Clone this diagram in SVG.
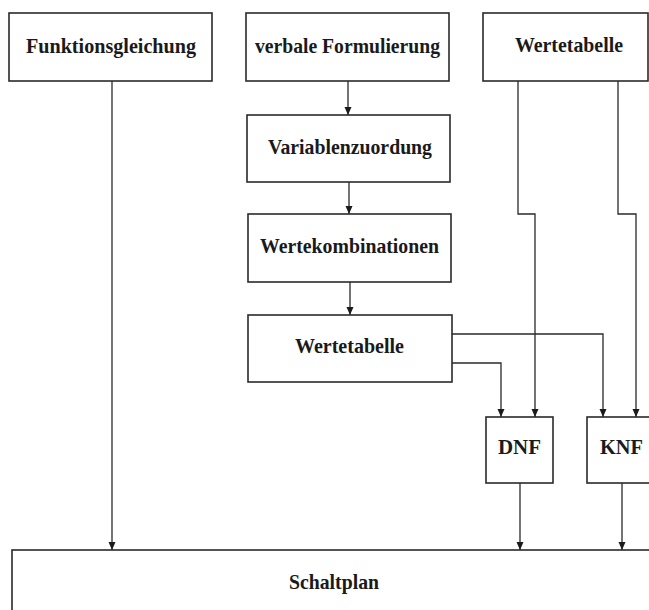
<svg xmlns="http://www.w3.org/2000/svg" width="649" height="610" viewBox="0 0 649 610">
<style>
.box{fill:#fff;stroke:#2a2a2a;stroke-width:1.6}
.lbl{font-family:"Liberation Serif","Times New Roman",serif;font-weight:bold;font-size:22px;fill:#1a1a1a;text-anchor:middle}
.con{fill:none;stroke:#2a2a2a;stroke-width:1.3}
</style>
<defs>
<marker id="arr" viewBox="0 0 8 8" refX="8" refY="4" markerWidth="8" markerHeight="8" markerUnits="userSpaceOnUse" orient="auto">
<path d="M0,0.5 L8,4 L0,7.5 Z" fill="#1a1a1a"/>
</marker>
</defs>
<rect width="649" height="610" fill="#fff"/>
<g id="connectors">
<path class="con" d="M112,81 V550" marker-end="url(#arr)"/>
<path class="con" d="M348,81 V115" marker-end="url(#arr)"/>
<path class="con" d="M349,182 V214" marker-end="url(#arr)"/>
<path class="con" d="M350,282 V315" marker-end="url(#arr)"/>
<path class="con" d="M518,81 V214 H535 V417" marker-end="url(#arr)"/>
<path class="con" d="M618,81 V214 H636 V417" marker-end="url(#arr)"/>
<path class="con" d="M452,334 H603 V417" marker-end="url(#arr)"/>
<path class="con" d="M452,363 H501 V417" marker-end="url(#arr)"/>
<path class="con" d="M520,483 V550" marker-end="url(#arr)"/>
<path class="con" d="M622,483 V550" marker-end="url(#arr)"/>
</g>
<g id="funktionsgleichung">
<rect class="box" x="9" y="13" width="203" height="68"/>
<text class="lbl" x="111" y="53" textLength="170" lengthAdjust="spacingAndGlyphs">Funktionsgleichung</text>
</g>
<g id="verbale-formulierung">
<rect class="box" x="246" y="13" width="203" height="68"/>
<text class="lbl" x="347.5" y="53" textLength="185" lengthAdjust="spacingAndGlyphs">verbale Formulierung</text>
</g>
<g id="wertetabelle-oben">
<rect class="box" x="483" y="13" width="165" height="68"/>
<text class="lbl" x="569" y="52" textLength="108" lengthAdjust="spacingAndGlyphs">Wertetabelle</text>
</g>
<g id="variablenzuordung">
<rect class="box" x="247" y="115" width="203" height="67"/>
<text class="lbl" x="350" y="154" textLength="164" lengthAdjust="spacingAndGlyphs">Variablenzuordung</text>
</g>
<g id="wertekombinationen">
<rect class="box" x="248" y="214" width="203" height="68"/>
<text class="lbl" x="349.5" y="253" textLength="179" lengthAdjust="spacingAndGlyphs">Wertekombinationen</text>
</g>
<g id="wertetabelle-mitte">
<rect class="box" x="248" y="315" width="204" height="67"/>
<text class="lbl" x="349.5" y="353" textLength="109" lengthAdjust="spacingAndGlyphs">Wertetabelle</text>
</g>
<g id="dnf">
<rect class="box" x="486" y="417" width="67" height="66"/>
<text class="lbl" x="519.5" y="454" textLength="43" lengthAdjust="spacingAndGlyphs">DNF</text>
</g>
<g id="knf">
<rect class="box" x="587" y="417" width="70" height="66"/>
<text class="lbl" x="621.5" y="454" textLength="43" lengthAdjust="spacingAndGlyphs">KNF</text>
</g>
<g id="schaltplan">
<rect class="box" x="12" y="550" width="650" height="70"/>
<text class="lbl" x="334" y="589" textLength="90" lengthAdjust="spacingAndGlyphs">Schaltplan</text>
</g>
</svg>
